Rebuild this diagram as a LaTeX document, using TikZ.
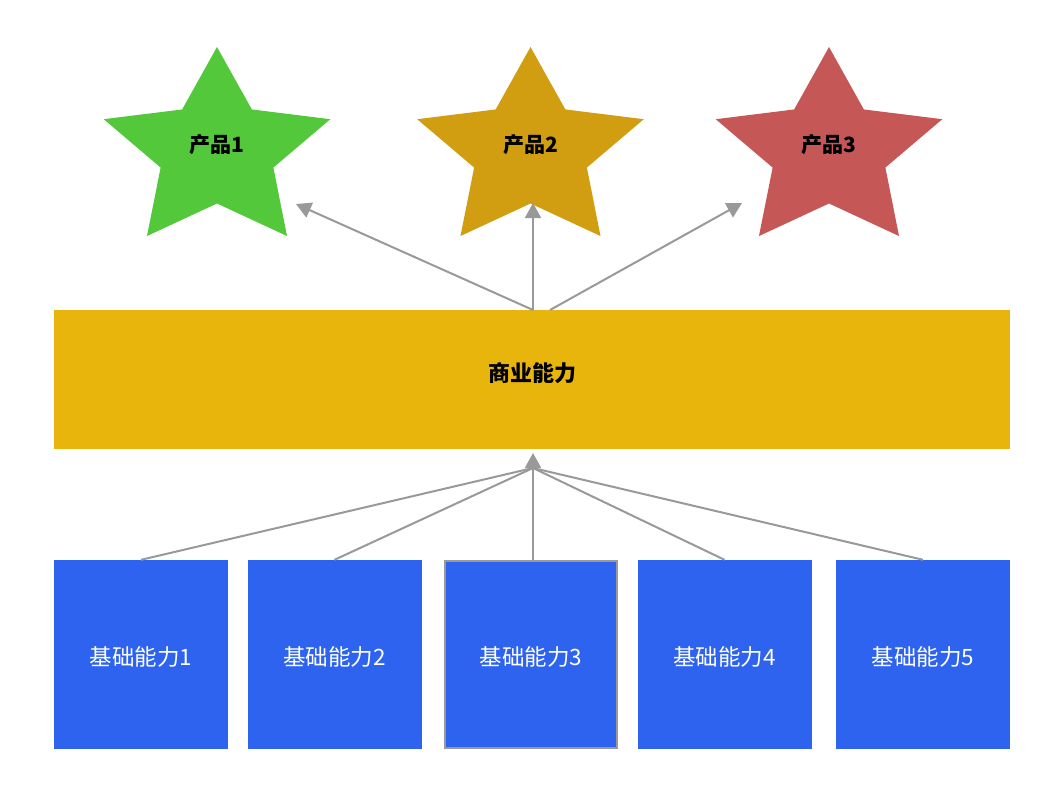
\documentclass[tikz,border=0pt]{standalone}
\usepackage{fontspec}
\setmainfont{Noto Sans CJK SC}
\usepackage{tikz}
\usetikzlibrary{positioning,arrows.meta}

\definecolor{stargreen}{HTML}{53C83A}
\definecolor{stargold}{HTML}{D09E10}
\definecolor{starred}{HTML}{C55757}
\definecolor{bizyellow}{HTML}{E8B50C}
\definecolor{baseblue}{HTML}{2E63F0}
\definecolor{linkgray}{HTML}{999999}

% star of a product: name, colour, centre x, label
\newcommand{\prodstar}[4]{%
	\fill[#2, shift={(#3,151.5)}, xscale=1.14] (270:104.5) -- (306:52) -- (342:104.5) -- (18:52) -- (54:104.5) -- (90:52) -- (126:104.5) -- (162:52) -- (198:104.5) -- (234:52) -- cycle;
	\node [prodlabel] (#1) at (#3,145) {#4};
}

\begin{document}
\begin{tikzpicture}[x=1pt,y=-1pt,
	link/.style={draw=linkgray,line width=2pt},
	arrowlink/.style={link,-{Triangle[length=15pt,width=16pt]}},
	prodlabel/.style={font=\fontsize{21}{21}\selectfont\bfseries,text=black},
	bizbox/.style={rectangle,fill=bizyellow,minimum width=956pt,minimum height=139pt,inner sep=0pt,text height=16pt,text depth=12pt,font=\fontsize{22}{22}\selectfont\bfseries},
	basebox/.style={rectangle,fill=baseblue,minimum width=174pt,minimum height=189pt,inner sep=0pt,text height=22pt,text depth=0pt,text=white,font=\fontsize{22.5}{22.5}\selectfont}]
	
	\useasboundingbox (0,0) rectangle (1056,784);
	
	\prodstar{p1}{stargreen}{217}{产品1}
	\prodstar{p2}{stargold}{530.5}{产品2}
	\prodstar{p3}{starred}{829}{产品3}
	
	\node [bizbox] (biz) at (532,379.5) {商业能力};
	
	\node [basebox] (b1) at (141,654.5) {基础能力1};
	\node [basebox] (b2) at (334.5,654.5) {基础能力2};
	\node [basebox,draw=linkgray,line width=2pt,minimum width=172pt,minimum height=187pt] (b3) at (531,654.5) {基础能力3};
	\node [basebox] (b4) at (724.5,654.5) {基础能力4};
	\node [basebox] (b5) at (923,654.5) {基础能力5};
	
	% arrow ends
	\coordinate (t1) at (296,204);
	\coordinate (t2) at (533,203);
	\coordinate (t3) at (742,203);
	\coordinate (s1) at (533,310);
	\coordinate (s3) at (550,310);
	\coordinate (hub) at (533,468);
	\coordinate (bt) at (533,453);
	
	\draw [arrowlink] (s1) to (t1);
	\draw [arrowlink] (s1) to (t2);
	\draw [arrowlink] (s3) to (t3);
	
	\draw [link] (b1.north) to (hub);
	\draw [link] (b2.north) to (hub);
	\draw [link] (b4.north) to (hub);
	\draw [link] (b5.north) to (hub);
	\draw [arrowlink] (b3.north -| hub) to (bt);
\end{tikzpicture}
\end{document}
